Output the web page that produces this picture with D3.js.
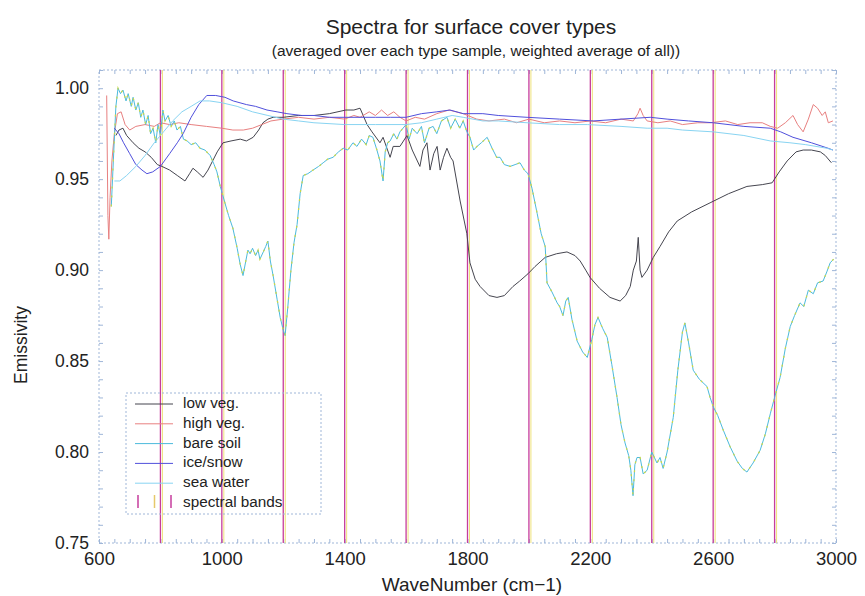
<!DOCTYPE html>
<html>
<head>
<meta charset="utf-8">
<script src="https://cdn.jsdelivr.net/npm/d3@7"></script>
<style>
  body { margin: 0; background: #fff; }
  svg { font-family: "Liberation Sans", Arial, sans-serif; }
  .frame { fill: none; stroke: #9fb6d8; stroke-dasharray: 2,2; }
  .tick line { stroke: #9fb6d8; }
  .tick text { fill: #222; }
</style>
</head>
<body>
<div id="chart"></div>
<script>
const width = 865;
const height = 596;

// [wavenumber, emissivity]
const lowVeg = [[655,0.974],[665,0.977],[678,0.978],[690,0.974],[711,0.970],[730,0.967],[750,0.965],[770,0.962],[790,0.958],[805,0.957],[830,0.955],[855,0.952],[880,0.949],[895,0.953],[906,0.956],[920,0.954],[939,0.951],[955,0.955],[970,0.960],[985,0.965],[1004,0.970],[1030,0.971],[1060,0.972],[1080,0.971],[1102,0.973],[1120,0.977],[1134,0.981],[1150,0.983],[1167,0.984],[1200,0.984],[1250,0.985],[1300,0.985],[1350,0.986],[1404,0.988],[1430,0.988],[1450,0.989],[1473,0.980],[1489,0.976],[1515,0.970],[1525,0.973],[1548,0.962],[1558,0.968],[1580,0.968],[1603,0.974],[1620,0.966],[1645,0.957],[1655,0.966],[1668,0.970],[1678,0.955],[1690,0.964],[1701,0.968],[1711,0.955],[1722,0.962],[1733,0.967],[1745,0.962],[1753,0.960],[1776,0.938],[1798,0.920],[1808,0.904],[1825,0.895],[1841,0.891],[1870,0.886],[1896,0.885],[1920,0.886],[1948,0.891],[1970,0.894],[1997,0.898],[2020,0.902],[2053,0.907],[2090,0.909],[2124,0.910],[2150,0.908],[2167,0.905],[2185,0.900],[2199,0.896],[2230,0.890],[2264,0.885],[2297,0.883],[2315,0.886],[2330,0.891],[2340,0.900],[2350,0.905],[2356,0.918],[2362,0.900],[2368,0.896],[2385,0.900],[2405,0.907],[2427,0.913],[2455,0.921],[2483,0.927],[2530,0.932],[2590,0.937],[2650,0.942],[2710,0.946],[2760,0.947],[2792,0.948],[2815,0.954],[2841,0.960],[2870,0.965],[2893,0.966],[2920,0.966],[2949,0.965],[2965,0.963],[2985,0.959]];

const highVeg = [[625,0.996],[629,0.930],[632,0.917],[636,0.940],[642,0.960],[650,0.975],[660,0.986],[672,0.987],[685,0.980],[700,0.977],[720,0.979],[750,0.980],[780,0.979],[800,0.981],[830,0.980],[860,0.981],[900,0.980],[950,0.979],[1000,0.978],[1036,0.977],[1070,0.977],[1100,0.978],[1130,0.980],[1160,0.982],[1200,0.983],[1250,0.984],[1300,0.983],[1350,0.984],[1400,0.983],[1430,0.985],[1450,0.984],[1480,0.987],[1500,0.985],[1520,0.988],[1540,0.985],[1560,0.987],[1580,0.984],[1600,0.982],[1630,0.984],[1660,0.983],[1700,0.986],[1740,0.988],[1786,0.986],[1830,0.983],[1870,0.982],[1920,0.983],[1960,0.981],[2000,0.983],[2050,0.981],[2100,0.982],[2150,0.981],[2200,0.982],[2250,0.981],[2300,0.983],[2340,0.982],[2355,0.986],[2362,0.989],[2372,0.985],[2385,0.982],[2420,0.981],[2460,0.982],[2500,0.980],[2550,0.981],[2590,0.981],[2640,0.982],[2680,0.980],[2720,0.981],[2760,0.981],[2786,0.979],[2810,0.978],[2835,0.981],[2860,0.985],[2875,0.980],[2893,0.976],[2910,0.983],[2926,0.991],[2940,0.989],[2955,0.985],[2965,0.987],[2975,0.981],[2990,0.982]];

const bareSoil = [[640,0.935],[648,0.965],[655,0.990],[662,1.000],[670,0.997],[678,0.999],[688,0.993],[695,0.997],[705,0.990],[711,0.995],[720,0.988],[728,0.992],[736,0.984],[743,0.988],[752,0.980],[760,0.985],[768,0.975],[776,0.978],[785,0.970],[792,0.980],[800,0.974],[808,0.988],[815,0.982],[825,0.985],[835,0.979],[845,0.982],[854,0.977],[865,0.979],[875,0.972],[887,0.971],[900,0.969],[915,0.970],[929,0.967],[945,0.966],[962,0.963],[975,0.958],[984,0.954],[995,0.946],[1010,0.937],[1022,0.930],[1036,0.923],[1050,0.912],[1060,0.903],[1069,0.897],[1078,0.905],[1085,0.911],[1092,0.909],[1100,0.912],[1110,0.908],[1118,0.911],[1124,0.906],[1135,0.910],[1143,0.913],[1150,0.916],[1158,0.905],[1167,0.897],[1180,0.884],[1190,0.874],[1200,0.867],[1206,0.864],[1215,0.880],[1225,0.900],[1235,0.915],[1245,0.925],[1255,0.942],[1265,0.952],[1280,0.953],[1297,0.955],[1315,0.957],[1330,0.959],[1345,0.961],[1362,0.962],[1380,0.965],[1395,0.967],[1410,0.966],[1427,0.970],[1440,0.968],[1455,0.972],[1470,0.969],[1480,0.974],[1492,0.973],[1505,0.966],[1515,0.960],[1525,0.949],[1532,0.965],[1540,0.970],[1548,0.971],[1560,0.975],[1570,0.972],[1580,0.976],[1600,0.980],[1610,0.972],[1620,0.978],[1636,0.975],[1650,0.979],[1660,0.970],[1675,0.978],[1688,0.979],[1700,0.975],[1715,0.982],[1733,0.984],[1745,0.978],[1760,0.983],[1775,0.978],[1786,0.982],[1798,0.976],[1808,0.973],[1820,0.966],[1831,0.968],[1845,0.970],[1864,0.973],[1880,0.967],[1895,0.962],[1906,0.962],[1920,0.958],[1939,0.957],[1955,0.958],[1971,0.959],[1985,0.955],[1997,0.953],[2010,0.945],[2027,0.931],[2040,0.920],[2053,0.913],[2059,0.893],[2075,0.888],[2092,0.882],[2100,0.880],[2111,0.875],[2120,0.883],[2128,0.885],[2140,0.873],[2157,0.861],[2175,0.855],[2190,0.852],[2205,0.862],[2215,0.870],[2225,0.874],[2240,0.868],[2255,0.863],[2270,0.848],[2287,0.830],[2300,0.815],[2313,0.805],[2325,0.798],[2332,0.790],[2339,0.776],[2345,0.793],[2352,0.797],[2362,0.797],[2372,0.788],[2385,0.790],[2400,0.800],[2417,0.794],[2427,0.797],[2437,0.791],[2450,0.800],[2470,0.819],[2485,0.845],[2500,0.866],[2508,0.871],[2520,0.860],[2535,0.845],[2555,0.840],[2580,0.836],[2590,0.830],[2600,0.825],[2615,0.820],[2633,0.812],[2655,0.803],[2678,0.795],[2695,0.791],[2710,0.789],[2730,0.794],[2753,0.801],[2770,0.810],[2786,0.821],[2800,0.830],[2818,0.841],[2835,0.857],[2851,0.869],[2865,0.875],[2883,0.882],[2895,0.880],[2910,0.889],[2926,0.887],[2940,0.893],[2958,0.894],[2970,0.899],[2981,0.904],[2992,0.906]];

const iceSnow = [[650,0.978],[665,0.975],[680,0.970],[700,0.964],[720,0.958],[740,0.955],[756,0.953],[775,0.954],[800,0.957],[830,0.964],[855,0.970],[874,0.975],[900,0.984],[925,0.991],[951,0.996],[980,0.996],[1010,0.995],[1037,0.993],[1080,0.991],[1110,0.990],[1147,0.988],[1180,0.987],[1212,0.986],[1260,0.985],[1300,0.985],[1350,0.984],[1400,0.984],[1450,0.984],[1500,0.984],[1550,0.984],[1600,0.984],[1650,0.986],[1700,0.987],[1743,0.988],[1786,0.986],[1850,0.986],[1900,0.985],[1994,0.984],[2100,0.983],[2209,0.982],[2300,0.983],[2395,0.984],[2450,0.983],[2520,0.982],[2600,0.981],[2700,0.979],[2786,0.978],[2820,0.976],[2860,0.973],[2920,0.970],[2974,0.967],[2990,0.966]];

const seaWater = [[650,0.949],[668,0.949],[690,0.952],[720,0.957],[750,0.963],[780,0.970],[810,0.976],[840,0.982],[870,0.987],[900,0.990],[929,0.993],[960,0.993],[1000,0.992],[1050,0.990],[1100,0.987],[1150,0.985],[1200,0.983],[1250,0.982],[1300,0.981],[1400,0.980],[1500,0.980],[1600,0.980],[1650,0.981],[1700,0.983],[1750,0.985],[1786,0.984],[1850,0.982],[1900,0.982],[1994,0.981],[2100,0.980],[2190,0.980],[2300,0.979],[2385,0.978],[2450,0.978],[2500,0.977],[2600,0.976],[2700,0.974],[2786,0.971],[2850,0.970],[2900,0.969],[2970,0.967],[2990,0.966]];

const seriesNames = ["low veg.", "high veg.", "bare soil", "ice/snow", "sea water"];
const seriesColors = ["#45454f", "#e88080", "#4cbadc", "#5050dc", "#88d4f2"];
const spectralBands = [800, 1000, 1200, 1400, 1600, 1800, 2000, 2200, 2400, 2600, 2800];
const xTickLabels = [600, 1000, 1400, 1800, 2200, 2600, 3000];
const yTickLabels = [0.75, 0.80, 0.85, 0.90, 0.95, 1.00];

const series = [lowVeg, highVeg, bareSoil, iceSnow, seaWater];

const margin = {left: 99, right: 29, top: 70, bottom: 53};

const x = d3.scaleLinear().domain([600, 3000]).range([margin.left, width - margin.right]);
const y = d3.scaleLinear().domain([0.75, 1.01]).range([height - margin.bottom, margin.top]);

const svg = d3.select("#chart").append("svg")
    .attr("width", width)
    .attr("height", height);

svg.append("defs").append("clipPath").attr("id", "plot-clip")
    .append("rect")
    .attr("x", x(600)).attr("y", y(1.01))
    .attr("width", x(3000) - x(600)).attr("height", y(0.75) - y(1.01));

// titles
svg.append("text")
    .attr("x", 471).attr("y", 34)
    .attr("text-anchor", "middle")
    .attr("font-size", 21)
    .attr("fill", "#222")
    .text("Spectra for surface cover types");
svg.append("text")
    .attr("x", 476).attr("y", 56)
    .attr("text-anchor", "middle")
    .attr("font-size", 15.5)
    .attr("fill", "#222")
    .text("(averaged over each type sample, weighted average of all))");

// minor ticks on all four sides
const xMinor = d3.range(600, 3001, 50);
const yMinor = d3.range(0, 27).map(i => +(0.75 + i * 0.01).toFixed(2));

function minorAxis(axis, values, translate) {
    svg.append("g")
        .attr("transform", translate)
        .call(axis.tickValues(values).tickSize(-4).tickFormat(""))
        .call(g => g.select(".domain").remove());
}
minorAxis(d3.axisBottom(x), xMinor, `translate(0,${y(0.75)})`);
minorAxis(d3.axisTop(x), xMinor, `translate(0,${y(1.01)})`);
minorAxis(d3.axisLeft(y), yMinor, `translate(${x(600)},0)`);
minorAxis(d3.axisRight(y), yMinor, `translate(${x(3000)},0)`);

// tick labels
svg.append("g")
    .attr("transform", `translate(0,${y(0.75)})`)
    .call(d3.axisBottom(x).tickValues(xTickLabels).tickSize(0).tickPadding(9).tickFormat(d3.format("d")))
    .call(g => g.select(".domain").remove())
    .selectAll("text").attr("font-size", 18.5).attr("font-family", "Liberation Sans, Arial, sans-serif");

svg.append("g")
    .attr("transform", `translate(${x(600)},0)`)
    .call(d3.axisLeft(y).tickValues(yTickLabels).tickSize(0).tickPadding(10).tickFormat(d3.format(".2f")))
    .call(g => g.select(".domain").remove())
    .selectAll("text").attr("font-size", 17.5).attr("font-family", "Liberation Sans, Arial, sans-serif");

// axis titles
svg.append("text")
    .attr("x", 472).attr("y", 591)
    .attr("text-anchor", "middle")
    .attr("font-size", 19)
    .attr("fill", "#222")
    .text("WaveNumber (cm\u22121)");
svg.append("text")
    .attr("transform", "translate(27,345) rotate(-90)")
    .attr("text-anchor", "middle")
    .attr("font-size", 17.5)
    .attr("fill", "#222")
    .text("Emissivity");

// frame
svg.append("rect")
    .attr("class", "frame")
    .attr("x", x(600)).attr("y", y(1.01))
    .attr("width", x(3000) - x(600)).attr("height", y(0.75) - y(1.01));

// spectral bands
const bands = svg.append("g");
bands.selectAll(".band-y")
    .data(spectralBands)
    .join("line")
    .attr("x1", d => x(d) + 2).attr("x2", d => x(d) + 2)
    .attr("y1", y(1.01)).attr("y2", y(0.75))
    .attr("stroke", "#eee27a")
    .attr("stroke-width", 1);
bands.selectAll(".band-m")
    .data(spectralBands)
    .join("line")
    .attr("x1", d => x(d)).attr("x2", d => x(d))
    .attr("y1", y(1.01)).attr("y2", y(0.75))
    .attr("stroke", "#c63c9c")
    .attr("stroke-width", 1.3);

// spectra
const line = d3.line().x(d => x(d[0])).y(d => y(d[1]));
const plot = svg.append("g").attr("clip-path", "url(#plot-clip)");

plot.selectAll(".spectrum")
    .data(series)
    .join("path")
    .attr("class", "spectrum")
    .attr("fill", "none")
    .attr("stroke", (d, i) => seriesColors[i])
    .attr("stroke-width", 1)
    .attr("d", line);

// yellowish speckle that shows on the bare soil trace
plot.append("path")
    .datum(bareSoil)
    .attr("fill", "none")
    .attr("stroke", "#c9d84a")
    .attr("stroke-width", 1.3)
    .attr("stroke-dasharray", "2,7")
    .attr("d", line);

// legend
const lg = svg.append("g").attr("transform", "translate(126,393)");
lg.append("rect")
    .attr("class", "frame")
    .attr("width", 195).attr("height", 121)
    .attr("fill", "#fff");

const rowY = i => 15 + i * 19.8;

lg.selectAll(".lg-line")
    .data(seriesNames)
    .join("line")
    .attr("x1", 9).attr("x2", 47)
    .attr("y1", (d, i) => rowY(i) - 4).attr("y2", (d, i) => rowY(i) - 4)
    .attr("stroke", (d, i) => seriesColors[i])
    .attr("stroke-width", 1);

lg.selectAll(".lg-text")
    .data(seriesNames.concat(["spectral bands"]))
    .join("text")
    .attr("x", 57)
    .attr("y", (d, i) => rowY(i))
    .attr("font-size", 15.3)
    .attr("fill", "#222")
    .text(d => d);

lg.selectAll(".lg-band")
    .data(["#c63c9c", "#e6c86a", "#c63c9c"])
    .join("line")
    .attr("x1", (d, i) => 12 + i * 16.5).attr("x2", (d, i) => 12 + i * 16.5)
    .attr("y1", rowY(5) - 12).attr("y2", rowY(5) + 1)
    .attr("stroke", d => d)
    .attr("stroke-width", 1.5);
</script>
</body>
</html>
